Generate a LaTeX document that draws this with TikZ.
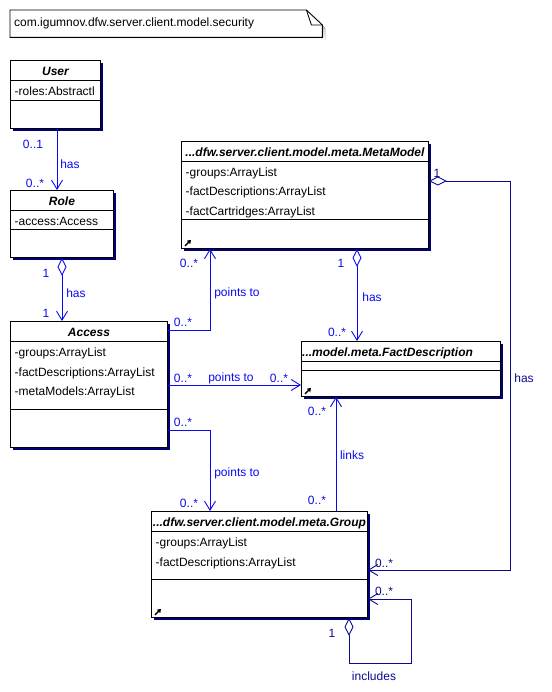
\documentclass[tikz,border=0pt]{standalone}
\usepackage{fontspec}
\setmainfont{Liberation Sans}
\usetikzlibrary{arrows.meta,shadows}

\definecolor{linkblue}{RGB}{10,10,240}
\definecolor{darkline}{RGB}{10,10,140}
\definecolor{shade}{RGB}{0,0,120}

\begin{document}
\begin{tikzpicture}
    [x=1pt, y=-1pt,
     every node/.style={font=\fontsize{12}{14}\selectfont},
     classbox/.style={draw, line width=0.9pt, fill=white, anchor=north west, inner sep=0pt,
       drop shadow={shadow xshift=3pt, shadow yshift=-3pt, fill=shade, opacity=1}},
     classname/.style={anchor=base, inner sep=0pt, font=\fontsize{12}{14}\selectfont\bfseries\itshape},
     attr/.style={anchor=base west, inner sep=0pt},
     sepline/.style={line width=0.9pt},
     assoc/.style={draw=linkblue, line width=0.9pt},
     darkassoc/.style={draw=darkline, line width=0.9pt},
     nav/.style={-{Straight Barb[length=9pt,width=11pt]}},
     agg/.style={{Diamond[open,length=18pt,width=9pt]}-{Straight Barb[length=9pt,width=11pt]}},
     role/.style={text=linkblue, inner sep=0pt},
     darkrole/.style={text=darkline, inner sep=0pt},
     linkicon/.style={line width=1.3pt, -{Triangle[length=3.5pt,width=4.5pt]}}]

    \useasboundingbox (0,0) rectangle (551,692);

    % package note
    \fill[shade] (13,13) -- (309,13) -- (325,28) -- (325,40) -- (13,40) -- cycle;
    \node[anchor=north west, inner sep=0pt, minimum width=312pt, minimum height=27pt] (pkgNote) at (10,10) {};
    \draw[line width=0.9pt, fill=white] (pkgNote.north west) -- ([xshift=-16pt]pkgNote.north east)
      -- ([yshift=-15pt]pkgNote.north east) -- (pkgNote.south east) -- (pkgNote.south west) -- cycle;
    \draw[line width=0.9pt] ([xshift=-16pt]pkgNote.north east) -- ([shift={(-11pt,-15pt)}]pkgNote.north east)
      -- ([yshift=-15pt]pkgNote.north east);
    \node[anchor=base west, inner sep=0pt] (pkgName) at ([shift={(4pt,-17pt)}]pkgNote.north west)
      {com.igumnov.dfw.server.client.model.security};

    % User
    \node[classbox, minimum width=90pt, minimum height=68pt] (User) at (10,60) {};
    \draw[sepline] ([yshift=-20pt]User.north west) -- ([yshift=-20pt]User.north east);
    \draw[sepline] ([yshift=-40pt]User.north west) -- ([yshift=-40pt]User.north east);
    \node[classname] (userName) at ([yshift=-15.5pt]User.north) {User};
    \node[attr] (userRoles) at ([shift={(4.5pt,-35.5pt)}]User.north west) {-roles:Abstractl};

    % Role
    \node[classbox, minimum width=103pt, minimum height=67pt] (Role) at (10,190) {};
    \draw[sepline] ([yshift=-20pt]Role.north west) -- ([yshift=-20pt]Role.north east);
    \draw[sepline] ([yshift=-39pt]Role.north west) -- ([yshift=-39pt]Role.north east);
    \node[classname] (roleName) at ([yshift=-15.5pt]Role.north) {Role};
    \node[attr] (roleAccess) at ([shift={(4.5pt,-35.5pt)}]Role.north west) {-access:Access};

    % Access
    \node[classbox, minimum width=157pt, minimum height=126pt] (Access) at (10,321) {};
    \draw[sepline] ([yshift=-20pt]Access.north west) -- ([yshift=-20pt]Access.north east);
    \draw[sepline] ([yshift=-88pt]Access.north west) -- ([yshift=-88pt]Access.north east);
    \node[classname] (accessName) at ([yshift=-15.5pt]Access.north) {Access};
    \node[attr] (accessGroups) at ([shift={(4.5pt,-35.5pt)}]Access.north west) {-groups:ArrayList};
    \node[attr] (accessFacts) at ([shift={(4.5pt,-55pt)}]Access.north west) {-factDescriptions:ArrayList};
    \node[attr] (accessMetas) at ([shift={(4.5pt,-74.5pt)}]Access.north west) {-metaModels:ArrayList};

    % MetaModel
    \node[classbox, minimum width=247pt, minimum height=107pt] (MetaModel) at (181,141) {};
    \draw[sepline] ([yshift=-20pt]MetaModel.north west) -- ([yshift=-20pt]MetaModel.north east);
    \draw[sepline] ([yshift=-78pt]MetaModel.north west) -- ([yshift=-78pt]MetaModel.north east);
    \node[classname] (metaName) at ([yshift=-15.5pt]MetaModel.north) {...dfw.server.client.model.meta.MetaModel};
    \node[attr] (metaGroups) at ([shift={(4.5pt,-35.5pt)}]MetaModel.north west) {-groups:ArrayList};
    \node[attr] (metaFacts) at ([shift={(4.5pt,-55pt)}]MetaModel.north west) {-factDescriptions:ArrayList};
    \node[attr] (metaCarts) at ([shift={(4.5pt,-74.5pt)}]MetaModel.north west) {-factCartridges:ArrayList};
    \draw[linkicon] ([shift={(4pt,3pt)}]MetaModel.south west) -- ++(6,-6);

    % FactDescription
    \node[classbox, minimum width=199pt, minimum height=55pt] (FactDesc) at (301,341) {};
    \draw[sepline] ([yshift=-20pt]FactDesc.north west) -- ([yshift=-20pt]FactDesc.north east);
    \draw[sepline] ([yshift=-29pt]FactDesc.north west) -- ([yshift=-29pt]FactDesc.north east);
    \node[classname, anchor=base west] (factName) at ([shift={(1pt,-15.5pt)}]FactDesc.north west) {...model.meta.FactDescription};
    \draw[linkicon] ([shift={(4pt,3pt)}]FactDesc.south west) -- ++(6,-6);

    % Group
    \node[classbox, minimum width=216pt, minimum height=106pt] (Group) at (151,511) {};
    \draw[sepline] ([yshift=-20pt]Group.north west) -- ([yshift=-20pt]Group.north east);
    \draw[sepline] ([yshift=-68pt]Group.north west) -- ([yshift=-68pt]Group.north east);
    \node[classname] (groupName) at ([yshift=-15.5pt]Group.north) {...dfw.server.client.model.meta.Group};
    \node[attr] (groupGroups) at ([shift={(4.5pt,-35.5pt)}]Group.north west) {-groups:ArrayList};
    \node[attr] (groupFacts) at ([shift={(4.5pt,-55pt)}]Group.north west) {-factDescriptions:ArrayList};
    \draw[linkicon] ([shift={(4pt,3pt)}]Group.south west) -- ++(6,-6);

    % User has Role
    \draw[assoc, nav] ([xshift=47pt]User.south west) -- ([xshift=47pt]User.south west |- Role.north);
    \node[role] (urFrom) at (33,144) {0..1};
    \node[role] (urName) at (70,164) {has};
    \node[role] (urTo) at (35,183) {0..*};

    % Role has Access
    \draw[assoc, agg] ([xshift=52pt]Role.south west) -- ([xshift=52pt]Role.south west |- Access.north);
    \node[role] (raFrom) at (46,273) {1};
    \node[role] (raName) at (76,293) {has};
    \node[role] (raTo) at (46,313) {1};

    % Access points to MetaModel
    \draw[assoc, nav] ([yshift=-9pt]Access.north east) -| ([xshift=29pt]MetaModel.south west);
    \node[role] (amFrom) at (183,322) {0..*};
    \node[role] (amName) at (237,293) {points to};
    \node[role] (amTo) at (189,263) {0..*};

    % Access points to FactDescription
    \draw[assoc, nav] ([yshift=-64pt]Access.north east) -- ([yshift=-64pt]Access.north east -| FactDesc.west);
    \node[role] (afFrom) at (183,378) {0..*};
    \node[role] (afName) at (231,378) {points to};
    \node[role] (afTo) at (279,378) {0..*};

    % Access points to Group
    \draw[assoc, nav] ([yshift=-109pt]Access.north east) -| ([xshift=59pt]Group.north west);
    \node[role] (agFrom) at (183,422) {0..*};
    \node[role] (agName) at (237,473) {points to};
    \node[role] (agTo) at (189,503) {0..*};

    % Group links FactDescription
    \draw[assoc, nav] ([xshift=185pt]Group.north west) -- ([xshift=185pt]Group.north west |- FactDesc.south);
    \node[role] (gfFrom) at (317,500) {0..*};
    \node[role] (gfName) at (352,455) {links};
    \node[role] (gfTo) at (317,411) {0..*};

    % MetaModel has FactDescription
    \draw[assoc, agg] ([xshift=176pt]MetaModel.south west) -- ([xshift=176pt]MetaModel.south west |- FactDesc.north);
    \node[role] (mfFrom) at (341,263) {1};
    \node[role] (mfName) at (372,297) {has};
    \node[role] (mfTo) at (337,332) {0..*};

    % MetaModel has Group
    \draw[darkassoc, agg] ([yshift=-40pt]MetaModel.north east) -- ++(82,0) |- ([yshift=-59pt]Group.north east);
    \node[darkrole] (mgFrom) at (437,173) {1};
    \node[darkrole] (mgName) at (524,378) {has};
    \node[darkrole] (mgTo) at (384,563) {0..*};

    % Group includes Group
    \draw[darkassoc, agg] ([xshift=198pt]Group.south west) -- ++(0,46) -- ++(62,0) |- ([yshift=-88pt]Group.north east);
    \node[darkrole] (ggFrom) at (332,633) {1};
    \node[darkrole] (ggName) at (374,676) {includes};
    \node[darkrole] (ggTo) at (384,591) {0..*};
\end{tikzpicture}
\end{document}
